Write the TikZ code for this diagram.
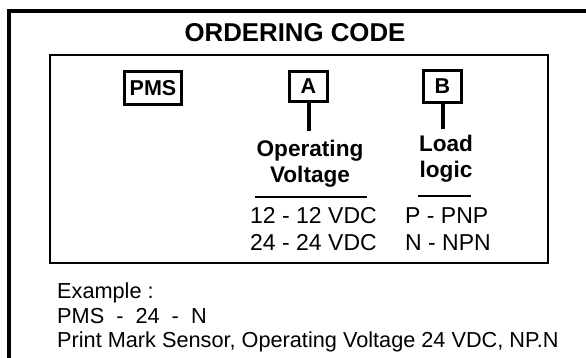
\documentclass[tikz,border=0pt]{standalone}
\usepackage{fontspec}
\setmainfont{Liberation Sans}
\usetikzlibrary{positioning}
\tikzset{
  codebox/.style = {rectangle, draw=black, line width=3.5pt, inner sep=0pt,
                    text centered, font=\fontsize{21.5}{21.5}\selectfont\bfseries},
  stem/.style    = {line width=4pt},
  lbl/.style     = {inner sep=0pt, anchor=base,
                    font=\fontsize{22.6}{26}\selectfont\bfseries},
  txt/.style     = {inner sep=0pt, anchor=base west,
                    font=\fontsize{23}{27}\selectfont},
  extxt/.style   = {inner sep=0pt, anchor=base west,
                    font=\fontsize{21.7}{24}\selectfont},
}
\begin{document}
\begin{tikzpicture}[x=1pt, y=-1pt]
\useasboundingbox (0,0) rectangle (586,358);

%% Frames
\draw[line width=3.5pt] (9,358) -- (9,11) -- (586,11);
\node[inner sep=0pt, anchor=base, font=\fontsize{25.8}{26}\selectfont\bfseries]
  (title) at (295,42) {ORDERING CODE};
\draw[line width=2pt] (50,55) rectangle (548,263);

%% Code fields
\node[codebox, minimum width=57pt, minimum height=33pt] (pms) at (153,88)   {PMS};
\node[codebox, minimum width=38pt, minimum height=30pt] (a)   at (308.5,86.5) {A};
\node[codebox, minimum width=38pt, minimum height=32pt] (b)   at (442.5,86.5) {B};
\coordinate (aend) at (308.5,131);
\coordinate (bend) at (442.5,129);
\draw[stem] (a.south) -- (aend);
\draw[stem] (b.south) -- (bend);

%% Field names
\node[lbl] (oper) at (310,157) {Operating};
\node[lbl] (volt) at (310,183) {Voltage};
\node[lbl] (load) at (446,152) {Load};
\node[lbl] (logic) at (446,178) {logic};
\draw[line width=2.5pt] (255,197) -- (367,197);
\draw[line width=2.5pt] (418,196) -- (471,196);

%% Options
\node[txt] (v12) at (250,223) {12 - 12 VDC};
\node[txt] (v24) at (250,250) {24 - 24 VDC};
\node[txt] (pnp) at (405,223) {P - PNP};
\node[txt] (npn) at (405,250) {N - NPN};

%% Example
\node[extxt] (ex)   at (57,298) {Example :};
\node[extxt] (code) at (57,323) {PMS \ - \ 24 \ - \ N};
\node[extxt] (desc) at (57,347) {Print Mark Sensor, Operating Voltage 24 VDC, NP.N};

\end{tikzpicture}
\end{document}
